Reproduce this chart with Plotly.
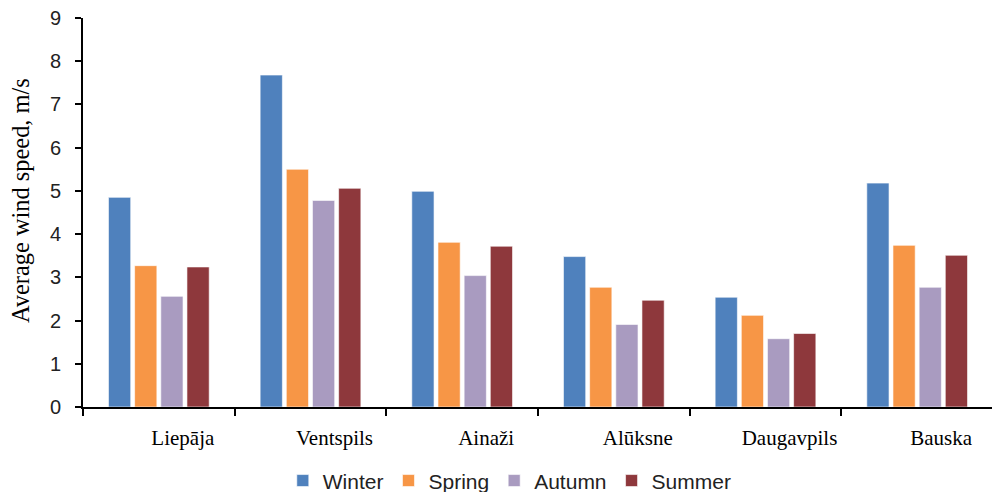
import plotly.graph_objects as go

cities = ["Liepāja", "Ventspils", "Ainaži", "Alūksne", "Daugavpils", "Bauska"]
winter = [4.85, 7.68, 4.99, 3.48, 2.54, 5.18]
spring = [3.27, 5.50, 3.81, 2.77, 2.12, 3.74]
autumn = [2.56, 4.78, 3.04, 1.91, 1.58, 2.77]
summer = [3.24, 5.06, 3.72, 2.47, 1.70, 3.51]
y_title = "Average wind speed, m/s"

series = [
    ("Winter", winter, "#4F81BD"),
    ("Spring", spring, "#F79646"),
    ("Autumn", autumn, "#A99BC0"),
    ("Summer", summer, "#8E383C"),
]

fig = go.Figure()
for name, vals, col in series:
    fig.add_trace(go.Bar(
        x=cities, y=vals, name=name,
        marker=dict(color=col, line=dict(color="rgba(255,255,255,0.6)", width=1)),
    ))

# page has an 8px body margin; figure sized to fit the 1000x492 window
fig.update_layout(
    width=992, height=484,
    barmode="group", bargap=0.31, bargroupgap=0.15,
    plot_bgcolor="white", paper_bgcolor="white",
    margin=dict(l=75, r=7, t=10, b=85, autoexpand=False),
    font=dict(family="Liberation Sans, Arial", color="#000"),
    legend=dict(orientation="h", x=0.469, xanchor="center", xref="paper",
                y=-0.19, yanchor="middle", font=dict(size=21, family="Liberation Sans, Arial", color="#222"),
                itemwidth=30, tracegroupgap=0, traceorder="normal"),
    showlegend=True,
)
fig.add_annotation(
    text=y_title, textangle=-90, showarrow=False,
    xref="paper", yref="paper", x=-0.068, y=0.53, xanchor="center", yanchor="middle",
    font=dict(family="Liberation Serif, Times New Roman", size=24.4, color="#000"),
)
fig.update_xaxes(
    automargin=False,
    showline=True, linecolor="black", linewidth=2,
    ticks="outside", tickson="boundaries", ticklen=7, tickwidth=2, tickcolor="black",
    tickfont=dict(family="Liberation Serif, Times New Roman", size=21, color="#000"),
    ticklabelshift=24, ticklabelstandoff=11,
    showgrid=False,
)
fig.update_yaxes(
    automargin=False,
    range=[0, 9], dtick=1, tick0=0,
    showline=True, linecolor="black", linewidth=2,
    ticks="outside", ticklen=6, tickwidth=2, tickcolor="black",
    tickfont=dict(family="Liberation Sans, Arial", size=20, color="#222"),
    ticklabelstandoff=10, ticklabeloverflow="allow",
    showgrid=False, zeroline=False,
)

fig.write_html("out.html")
